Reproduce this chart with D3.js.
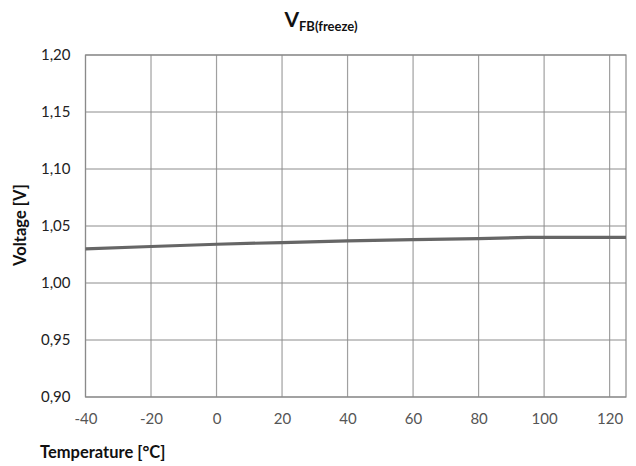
<!DOCTYPE html>
<html>
<head>
<meta charset="utf-8">
<script src="https://cdn.jsdelivr.net/npm/d3@7"></script>
<style>
  html, body { margin: 0; padding: 0; background: #fff; }
  svg { display: block; }
  text { font-family: "Lato", "Open Sans", sans-serif; }
</style>
</head>
<body>
<svg id="chart" width="636" height="466"></svg>
<script>
// V_FB(freeze) versus junction temperature
const temperatures = [-40, -20, 0, 20, 40, 60, 80, 95, 125];
const voltages = [1.030, 1.032, 1.034, 1.0355, 1.037, 1.038, 1.039, 1.040, 1.040];
const xTicks = [-40, -20, 0, 20, 40, 60, 80, 100, 120];
const yTicks = [0.90, 0.95, 1.00, 1.05, 1.10, 1.15, 1.20];

const svg = d3.select("#chart");
const plot = { left: 85.5, right: 626, top: 55, bottom: 397 };

const x = d3.scaleLinear().domain([-40, 125]).range([plot.left, plot.right]);
const y = d3.scaleLinear().domain([0.90, 1.20]).range([plot.bottom, plot.top]);

const fmtY = v => d3.format(".2f")(v).replace(".", ",");
const fmtX = v => String(v);

// Gridlines
const grid = svg.append("g");
grid.selectAll("line.v").data(xTicks).join("line")
  .attr("class", "v")
  .attr("x1", d => x(d)).attr("x2", d => x(d))
  .attr("y1", plot.top).attr("y2", plot.bottom)
  .attr("stroke", "#a0a0a0").attr("stroke-width", 1.2);
grid.selectAll("line.h").data(yTicks).join("line")
  .attr("class", "h")
  .attr("x1", plot.left).attr("x2", plot.right)
  .attr("y1", d => y(d)).attr("y2", d => y(d))
  .attr("stroke", "#8c8c8c").attr("stroke-width", 1);

// Plot frame
svg.append("rect")
  .attr("x", plot.left).attr("y", plot.top)
  .attr("width", plot.right - plot.left).attr("height", plot.bottom - plot.top)
  .attr("fill", "none").attr("stroke", "#8a8a8a").attr("stroke-width", 1.2);

// Y axis labels
const yAxis = d3.axisLeft(y).tickValues(yTicks).tickFormat(fmtY).tickSize(0).tickPadding(15);
svg.append("g").attr("transform", `translate(${plot.left},0)`).call(yAxis)
  .call(g => g.select(".domain").remove())
  .call(g => g.selectAll("text")
    .attr("font-family", "Lato, 'Open Sans', sans-serif")
    .attr("font-size", 15).attr("fill", "#222"));

// X axis labels
const xAxis = d3.axisBottom(x).tickValues(xTicks).tickFormat(fmtX).tickSize(0).tickPadding(16);
svg.append("g").attr("transform", `translate(0,${plot.bottom})`).call(xAxis)
  .call(g => g.select(".domain").remove())
  .call(g => g.selectAll("text")
    .attr("font-family", "Lato, 'Open Sans', sans-serif")
    .attr("font-size", 15).attr("fill", "#555"));

// Data line
const line = d3.line().x(d => x(d[0])).y(d => y(d[1]));
svg.append("path")
  .datum(temperatures.map((t, i) => [t, voltages[i]]))
  .attr("d", line)
  .attr("fill", "none")
  .attr("stroke", "#666")
  .attr("stroke-width", 3.2);

// Title
const title = svg.append("text")
  .attr("x", 321).attr("y", 27)
  .attr("text-anchor", "middle")
  .attr("font-weight", "bold")
  .attr("fill", "#111");
title.append("tspan").attr("font-size", 21).text("V");
title.append("tspan").attr("font-size", 13).attr("dy", 4).text("FB(freeze)");

// Axis titles
svg.append("text")
  .attr("transform", "translate(26,225) rotate(-90)")
  .attr("text-anchor", "middle")
  .attr("font-size", 16.5).attr("font-weight", "bold").attr("fill", "#111")
  .text("Voltage [V]");

svg.append("text")
  .attr("x", 40).attr("y", 458)
  .attr("font-size", 16.5).attr("font-weight", "bold").attr("fill", "#111")
  .text("Temperature [°C]");
</script>
</body>
</html>
